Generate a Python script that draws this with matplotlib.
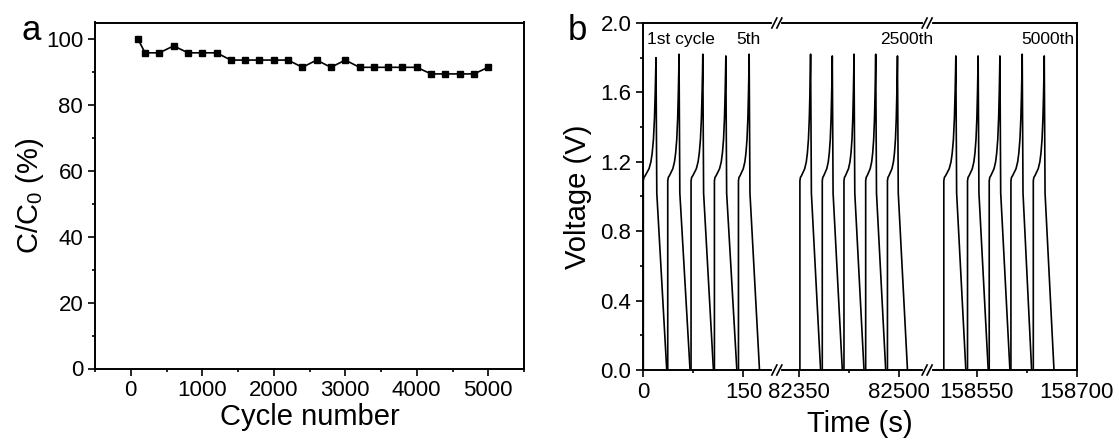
import numpy as np
import matplotlib
matplotlib.use("Agg")
import matplotlib.pyplot as plt
from matplotlib.ticker import MultipleLocator
from matplotlib.lines import Line2D

plt.rcParams['font.family'] = ['Liberation Sans', 'DejaVu Sans']
plt.rcParams['mathtext.default'] = 'regular'

TICKSIZE = 16
LABELSIZE = 21
LETTERSIZE = 25
NOTESIZE = 12.5

# panel a: capacity retention
cycle_num = [100, 200, 400, 600, 800, 1000, 1200, 1400, 1600, 1800, 2000, 2200, 2400,
             2600, 2800, 3000, 3200, 3400, 3600, 3800, 4000, 4200, 4400, 4600, 4800, 5000]
retention = [100.0, 95.8, 95.8, 97.9, 95.8, 95.8, 95.8, 93.6, 93.6, 93.6, 93.6, 93.6, 91.4,
             93.6, 91.4, 93.6, 91.4, 91.4, 91.4, 91.4, 91.4, 89.4, 89.4, 89.4, 89.4, 91.4]

# panel b: GCD cycles, three time windows (start of charge, peak, end of discharge)
seg_lims = [(0, 200), (82317, 82542), (158476, 158700)]
seg_ticklbl = [["0", "150"], ["82350", "82500"], ["158550", "158700"]]
charge_start = [[0, 36.6, 71.5, 106.5, 142.5],
                [82351.5, 82385, 82417.5, 82450, 82482.6],
                [158501, 158536.5, 158569, 158601.5, 158635]]
peak_t = [[19.0, 53.5, 89.1, 123.6, 158.5],
          [82367.5, 82400, 82432.5, 82465, 82497.6],
          [158519, 158552.4, 158585, 158618.4, 158651.4]]
peak_v = [[1.80, 1.82, 1.82, 1.81, 1.82],
          [1.82, 1.81, 1.82, 1.82, 1.81],
          [1.81, 1.81, 1.81, 1.82, 1.81]]
discharge_end = [[35.1, 70.0, 105.0, 140.1, 174.0],
                 [82382.5, 82415, 82447.5, 82480, 82512.6],
                 [158534, 158567.5, 158600, 158632.5, 158666]]
charge_frac = [0.0, 0.05, 0.15, 0.30, 0.45, 0.60, 0.70, 0.80, 0.88, 0.94, 0.98]
charge_v = [1.09, 1.11, 1.12, 1.14, 1.16, 1.20, 1.25, 1.33, 1.45, 1.60, 1.73]
ir_drop_v = 1.02
ir_drop_dt = 1.2

notes = [(0, 6, "1st cycle", "left"), (0, 140, "5th", "left"),
         (1, 82472, "2500th", "left"), (2, 158696, "5000th", "right")]


def cycle_curve(ts, tp, vp, te):
    t = [ts]
    v = [0.0]
    for f, cv in zip(charge_frac, charge_v):
        t.append(ts + f * (tp - ts))
        v.append(cv)
    t += [tp, tp + ir_drop_dt, te]
    v += [vp, ir_drop_v, 0.0]
    return t, v


def style(ax):
    for s in ax.spines.values():
        s.set_linewidth(1.4)
    ax.tick_params(which='both', direction='out', width=1.2, labelsize=TICKSIZE,
                   top=False, right=False)
    ax.tick_params(which='major', length=5)
    ax.tick_params(which='minor', length=2.5)


W, H = 1119, 441
fig = plt.figure(figsize=(W / 100, H / 100), dpi=100)

# ---- panel a
axa = fig.add_axes([95 / W, 1 - 368.5 / H, 429 / W, 346 / H])
axa.plot(cycle_num, retention, color='k', lw=1.2, marker='s', ms=5)
axa.set_xlim(-500, 5500)
axa.set_ylim(0, 105)
axa.xaxis.set_major_locator(MultipleLocator(1000))
axa.xaxis.set_minor_locator(MultipleLocator(500))
axa.yaxis.set_major_locator(MultipleLocator(20))
axa.yaxis.set_minor_locator(MultipleLocator(10))
style(axa)
axa.set_xlabel("Cycle number", fontsize=LABELSIZE, labelpad=1)
axa.set_ylabel("C/C$_0$ (%)", fontsize=LABELSIZE, labelpad=0)
fig.text(31 / W, 1 - 30 / H, "a", fontsize=LETTERSIZE, ha='center', va='center')

# ---- panel b
left, right = 643.3, 1076.7
bottom, top = 370, 23
spans = [b - a for a, b in seg_lims]
tot = sum(spans)
x0 = left
axes_b = []
for i, (lo, hi) in enumerate(seg_lims):
    w = (right - left) * spans[i] / tot
    ax = fig.add_axes([x0 / W, 1 - bottom / H, w / W, (bottom - top) / H])
    ax.patch.set_visible(False)
    x0 += w
    axes_b.append(ax)
    for ts, tp, vp, te in zip(charge_start[i], peak_t[i], peak_v[i], discharge_end[i]):
        t, v = cycle_curve(ts, tp, vp, te)
        ax.plot(t, v, color='k', lw=1.2)
    ax.set_xlim(lo, hi)
    ax.set_ylim(0, 2.0)
    ax.xaxis.set_minor_locator(MultipleLocator(75))
    ax.set_xticks([int(s) for s in seg_ticklbl[i]])
    ax.set_xticklabels(seg_ticklbl[i])
    style(ax)
    if i > 0:
        ax.spines['left'].set_visible(False)
        ax.tick_params(axis='y', which='both', left=False, labelleft=False)
    if i < 2:
        ax.spines['right'].set_visible(False)

axb = axes_b[0]
axb.set_yticks([0.0, 0.4, 0.8, 1.2, 1.6, 2.0])
axb.set_yticklabels(["0.0", "0.4", "0.8", "1.2", "1.6", "2.0"])
axb.yaxis.set_minor_locator(MultipleLocator(0.2))
axb.set_ylabel("Voltage (V)", fontsize=LABELSIZE, labelpad=6)
fig.text((left + right) / 2 / W, 1 - 424 / H, "Time (s)", fontsize=LABELSIZE,
         ha='center', va='center')
fig.text(577 / W, 1 - 30 / H, "b", fontsize=LETTERSIZE, ha='center', va='center')

for seg, tx, txt, ha in notes:
    axes_b[seg].text(tx, 1.905, txt, fontsize=NOTESIZE, ha=ha, va='center',
                     clip_on=False, zorder=5)

# break marks on top and bottom spines
for ax in axes_b[:2]:
    bx = ax.get_position().x1
    for yf in (1 - bottom / H, 1 - top / H):
        gap = 2.5 / W
        fig.add_artist(Line2D([bx - gap, bx + gap], [yf, yf], color='white', lw=3))
        for off in (-gap, gap):
            fig.add_artist(Line2D([bx + off - 2.5 / W, bx + off + 2.5 / W],
                                  [yf - 5 / H, yf + 5 / H], color='k', lw=1.2))

fig.savefig("out.png", dpi=100)
